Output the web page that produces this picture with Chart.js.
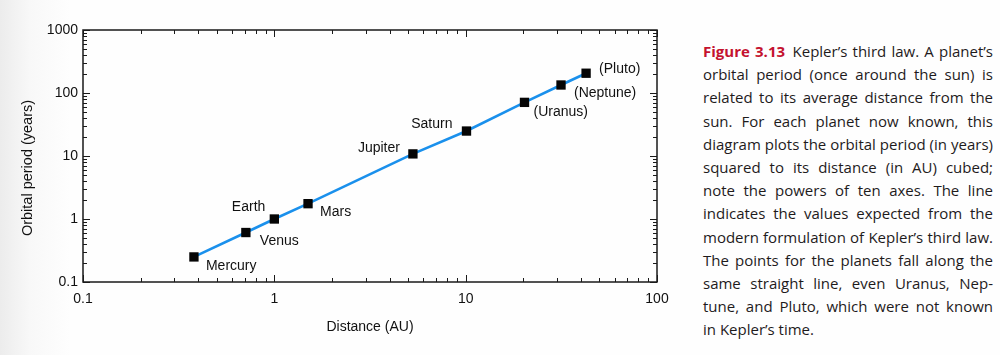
<!DOCTYPE html>
<html><head><meta charset="utf-8">
<script src="https://cdn.jsdelivr.net/npm/chart.js@4.4.0/dist/chart.umd.min.js"></script>
<style>
html,body{margin:0;padding:0;width:1000px;height:355px;overflow:hidden;}
body{background:linear-gradient(90deg,#ececec 0px,#f8f8f8 30px,#fefefe 70px,#fefefe 100%);}
#wrap{position:absolute;left:0;top:0;width:680px;height:355px;}
#cap{position:absolute;left:703px;top:40px;width:290px;font-family:"Open Sans",sans-serif;font-size:15px;line-height:23.2px;color:#1e1b1c;}
#cap .ln{white-space:nowrap;display:block;height:23.2px;}
#cap b{color:#c4122f;font-weight:700;}
</style></head>
<body>
<div id="wrap"><canvas id="c" width="680" height="355"></canvas></div>
<div id="cap"></div>
<script>
// ---- data ----
const planets = ['Mercury','Venus','Earth','Mars','Jupiter','Saturn','(Uranus)','(Neptune)','(Pluto)'];
const distanceAU = [0.38, 0.71, 1.0, 1.5, 5.3, 10.1, 20.3, 31.5, 42.6];
const periodYears = [0.25, 0.61, 1.0, 1.75, 10.8, 24.9, 71, 134, 206];
const xTickLabels = ['0.1','1','10','100'];
const yTickLabels = ['0.1','1','10','100','1000'];
const xAxisTitle = 'Distance (AU)';
const yAxisTitle = 'Orbital period (years)';
const captionLead = 'Figure 3.13';
const captionLines = [
  'Kepler\u2019s third law. A planet\u2019s',
  'orbital period (once around the sun) is',
  'related to its average distance from the',
  'sun. For each planet now known, this',
  'diagram plots the orbital period (in years)',
  'squared to its distance (in AU) cubed;',
  'note the powers of ten axes. The line',
  'indicates the values expected from the',
  'modern formulation of Kepler\u2019s third law.',
  'The points for the planets fall along the',
  'same straight line, even Uranus, Nep-',
  'tune, and Pluto, which were not known',
  'in Kepler\u2019s time.'
];
// ---- label placement style (dx, dy, align) ----
const labelStyle = [[12,9,'left'],[14,9,'left'],[-9,-12,'right'],[12,8,'left'],[-13,-6,'right'],[-14,-7,'right'],[9,10,'left'],[13,8,'left'],[13,-4,'left']];

const pts = distanceAU.map((x,i)=>({x:x, y:periodYears[i]}));
const FONT = '"Liberation Sans", Arial, sans-serif';
const INK = '#111111';

function labelFor(list){
  return function(v){
    const l = Math.log10(v);
    if (Math.abs(l - Math.round(l)) > 1e-6) return '';
    const f = list.find(t => Math.abs(parseFloat(t) - v) < 1e-6 * Math.max(1, v));
    return f === undefined ? '' : f;
  };
}

const framePlugin = {
  id: 'frame',
  beforeDatasetsDraw(chart){
    const {ctx, chartArea:a, scales:{x, y}} = chart;
    ctx.save();
    ctx.strokeStyle = '#1a1a1a';
    ctx.lineWidth = 1.5;
    ctx.strokeRect(a.left, a.top, a.right - a.left, a.bottom - a.top);
    ctx.lineWidth = 1;
    ctx.beginPath();
    const decades = (sc) => {
      const out = [];
      const e0 = Math.round(Math.log10(sc.min)), e1 = Math.round(Math.log10(sc.max));
      for (let e = e0; e < e1; e++) for (let s = 1; s <= 9; s++) out.push({v: s*Math.pow(10,e), major: s === 1});
      out.push({v: sc.max, major: true});
      return out;
    };
    decades(x).forEach(t => {
      const px = Math.round(x.getPixelForValue(t.v)) + 0.5;
      const len = t.major ? 7 : 4;
      ctx.moveTo(px, a.bottom); ctx.lineTo(px, a.bottom - len);
      ctx.moveTo(px, a.top); ctx.lineTo(px, a.top + len);
    });
    decades(y).forEach(t => {
      const py = Math.round(y.getPixelForValue(t.v)) + 0.5;
      const len = t.major ? 7 : 4;
      ctx.moveTo(a.left, py); ctx.lineTo(a.left + len, py);
      ctx.moveTo(a.right, py); ctx.lineTo(a.right - len, py);
    });
    ctx.stroke();
    // axis titles
    ctx.fillStyle = INK;
    ctx.font = '14px ' + FONT;
    ctx.textAlign = 'center';
    ctx.textBaseline = 'middle';
    ctx.fillText(xAxisTitle, (a.left + a.right)/2, 327);
    ctx.font = '14.5px ' + FONT;
    ctx.translate(28, 168);
    ctx.rotate(-Math.PI/2);
    ctx.fillText(yAxisTitle, 0, 0);
    ctx.restore();
  },
  afterDatasetsDraw(chart){
    const {ctx} = chart;
    const meta = chart.getDatasetMeta(0);
    ctx.save();
    ctx.fillStyle = INK;
    ctx.font = '14px ' + FONT;
    ctx.textBaseline = 'middle';
    meta.data.forEach((el, i) => {
      const s = labelStyle[i];
      ctx.textAlign = s[2];
      ctx.fillText(planets[i], el.x + s[0], el.y + s[1]);
    });
    ctx.restore();
  }
};

new Chart(document.getElementById('c'), {
  type: 'scatter',
  data: {
    datasets: [
      { type: 'scatter', data: pts, order: 1, pointStyle: 'rect', pointRadius: 6.6, pointHoverRadius: 6.6,
        backgroundColor: '#050505', borderWidth: 0 },
      { type: 'line', data: pts, order: 2, borderColor: '#1a90ec', borderWidth: 2.6, pointRadius: 0,
        fill: false, tension: 0 }
    ]
  },
  options: {
    responsive: false, animation: false, devicePixelRatio: 1,
    layout: { padding: { left: 0, top: 30, right: 23, bottom: 0 } },
    plugins: { legend: { display: false }, tooltip: { enabled: false } },
    scales: {
      x: {
        type: 'logarithmic', min: 0.1, max: 100, position: 'bottom',
        grid: { display: false, drawTicks: false },
        border: { display: false },
        ticks: { autoSkip: false, maxRotation: 0, padding: 9, color: INK,
                 font: { family: FONT, size: 14 }, callback: labelFor(xTickLabels) },
        afterFit(s){ s.height = 73; }
      },
      y: {
        type: 'logarithmic', min: 0.1, max: 1000, position: 'left',
        grid: { display: false, drawTicks: false },
        border: { display: false },
        ticks: { autoSkip: false, padding: 5, color: INK,
                 font: { family: FONT, size: 14 }, callback: labelFor(yTickLabels) },
        afterFit(s){ s.width = 83; }
      }
    }
  },
  plugins: [framePlugin]
});

// caption, each line justified to full width except last
const cap = document.getElementById('cap');
captionLines.forEach((t, i) => {
  const d = document.createElement('span');
  d.className = 'ln';
  if (i === 0) {
    const b = document.createElement('b');
    b.textContent = captionLead;
    d.appendChild(b);
    d.appendChild(document.createTextNode('\u2002' + t));
  } else d.textContent = t;
  cap.appendChild(d);
});
const W = 290;
const lines = cap.querySelectorAll('.ln');
lines.forEach((d, i) => {
  const inner = document.createElement('span');
  while (d.firstChild) inner.appendChild(d.firstChild);
  d.appendChild(inner);
  inner.style.whiteSpace = 'nowrap';
  const w = inner.getBoundingClientRect().width;
  const gaps = (inner.textContent.match(/ /g) || []).length;
  if (w > W) {
    inner.style.display = 'inline-block';
    inner.style.transformOrigin = 'left center';
    inner.style.transform = 'scaleX(' + (W / w) + ')';
  } else if (i < lines.length - 1 && gaps > 0) {
    inner.style.wordSpacing = ((W - w) / gaps) + 'px';
  }
});
</script>
</body></html>
